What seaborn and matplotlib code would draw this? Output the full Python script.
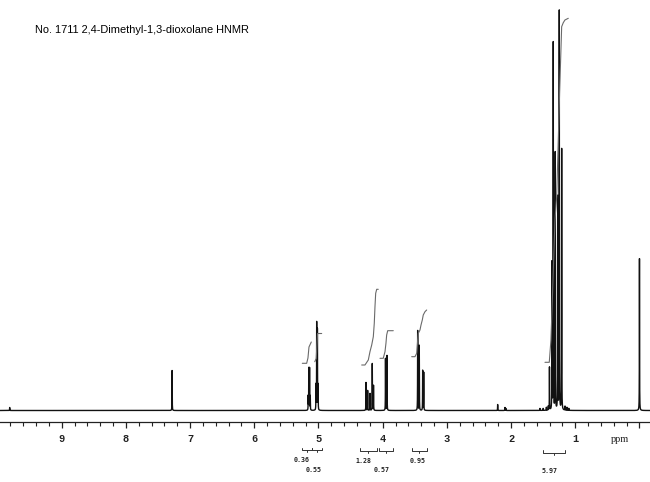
import numpy as np
import pandas as pd
import matplotlib
matplotlib.use("Agg")
import matplotlib.pyplot as plt
import seaborn as sns

# ---------------- data ----------------
title = "No. 1711 2,4-Dimethyl-1,3-dioxolane HNMR"

# peak list: chemical shift (ppm) and height (relative units, ~px above baseline)
peak_ppm = [9.81, 7.28,
            5.160, 5.151, 5.139, 5.128,
            5.039, 5.028, 5.017, 5.006,
            4.260, 4.234, 4.198, 4.162, 4.143,
            3.956, 3.933,
            3.455, 3.430, 3.377, 3.361,
            2.209, 2.095, 2.080,
            1.55, 1.50, 1.45, 1.42,
            1.402, 1.363, 1.343, 1.312, 1.274, 1.249, 1.212,
            1.16, 1.13, 1.10,
            0.000]
peak_height = [3, 40,
               14, 42, 42, 14,
               25, 87, 80, 25,
               28, 20, 17, 47, 25,
               52, 55,
               80, 65, 40, 38,
               6, 3, 2,
               2, 2, 3, 4,
               43, 147, 368, 258, 213, 399, 262,
               4, 3, 2,
               152]

# integral traces (ppm, height)
int1_ppm = [5.252, 5.184, 5.164, 5.148, 5.112]
int1_h = [47.2, 47.2, 52.5, 63.5, 68.5]
int2_ppm = [5.058, 5.035, 5.025, 5.015, 4.950]
int2_h = [48.8, 52.0, 65.0, 77.0, 77.0]
int3_ppm = [4.327, 4.276, 4.224, 4.198, 4.171, 4.146, 4.131, 4.120, 4.109, 4.093, 4.069]
int3_h = [45.5, 45.5, 50.5, 58.8, 65.5, 73.8, 87.2, 103.8, 117.2, 121.2, 121.2]
int4_ppm = [4.042, 3.991, 3.964, 3.949, 3.938, 3.922, 3.835]
int4_h = [52.2, 52.2, 58.8, 67.2, 75.5, 79.8, 79.8]
int5_ppm = [3.548, 3.497, 3.470, 3.455, 3.445, 3.419, 3.403, 3.383, 3.368, 3.341, 3.315]
int5_h = [53.8, 53.8, 57.2, 70.5, 77.2, 80.5, 85.5, 90.5, 95.5, 98.8, 100.5]
int6_ppm = [1.472, 1.405, 1.379, 1.347, 1.316, 1.290, 1.269, 1.243, 1.212, 1.187, 1.161, 1.109]
int6_h = [48.2, 48.2, 70.5, 130.5, 190.5, 213.8, 260.5, 320.5, 383.8, 387.8, 390.5, 392.2]

# integration ranges (ppm) and values
int_start = [5.262, 5.101, 4.354, 4.053, 3.539, 1.508]
int_end = [5.101, 4.950, 4.093, 3.844, 3.315, 1.160]
int_value = ["0.36", "0.55", "1.28", "0.57", "0.95", "5.97"]

axis_ticks = [1, 2, 3, 4, 5, 6, 7, 8, 9]

# ---------------- figure ----------------
sns.set_style("white")
fig = plt.figure(figsize=(6.5, 4.82), dpi=100)
ax = fig.add_axes([0, 0, 1, 1])

# spectrum (sum of narrow Lorentzian lines)
x = np.linspace(9.97, -0.17, 50000)
y = np.zeros_like(x)
w = 0.0016
for c, h in zip(peak_ppm, peak_height):
    y += h / (1 + ((x - c) / w) ** 2)
spec = pd.DataFrame({"ppm": x, "I": y})
sns.lineplot(data=spec, x="ppm", y="I", ax=ax, color="#111111", lw=1.0,
             estimator=None, sort=False)

for px, ph in [(int1_ppm, int1_h), (int2_ppm, int2_h), (int3_ppm, int3_h),
               (int4_ppm, int4_h), (int5_ppm, int5_h), (int6_ppm, int6_h)]:
    d = pd.DataFrame({"ppm": px, "I": ph})
    sns.lineplot(data=d, x="ppm", y="I", ax=ax, color="#6a6a6a", lw=0.8,
                 estimator=None, sort=False)

# integral brackets and labels
br_y = [-39.5, -39.5, -40.2, -40.2, -40.0, -42.2]
lab_x = [5.262, 5.081, 4.302, 4.016, 3.461, 1.394]
lab_y = [-50.0, -59.0, -50.5, -59.5, -50.5, -60.5]
for s, e, by in zip(int_start, int_end, br_y):
    ax.plot([s, s, e, e], [by + 2.5, by, by, by + 2.5], color="#333333", lw=0.7)
    m = (s + e) / 2
    ax.plot([m, m], [by, by - 2.2], color="#333333", lw=0.7)
for v, lx, ly in zip(int_value, lab_x, lab_y):
    ax.text(lx, ly, v, ha="center", va="center", fontsize=4.8,
            family="DejaVu Sans Mono", fontweight="bold", color="#222222")

ax.set_xlim(9.961, -0.164)
ax.set_ylim(-71.5, 410.5)

# axis line with ticks
for s in ["top", "right", "left"]:
    ax.spines[s].set_visible(False)
ax.spines["bottom"].set_position(("data", -11.8))
ax.spines["bottom"].set_linewidth(0.9)
ax.spines["bottom"].set_color("#222222")
ax.set_xticks([0] + axis_ticks)
ax.set_xticklabels([""] + [str(t) for t in axis_ticks])
ax.set_xticks(np.arange(0, 10.0, 0.2), minor=True)
ax.tick_params(axis="x", which="major", direction="out", length=4.5, width=0.9,
               pad=4, labelsize=7.5, colors="#222222", bottom=True)
ax.tick_params(axis="x", which="minor", direction="out", length=3, width=0.8,
               colors="#222222", bottom=True)
for lab in ax.get_xticklabels():
    lab.set_family("Liberation Mono")
    lab.set_fontweight("bold")
ax.set_yticks([])
ax.set_xlabel("")
ax.set_ylabel("")
ax.text(0.30, -29, "ppm", ha="center", va="center", fontsize=7.5,
        family="Liberation Serif", color="#222222")

fig.text(35 / 650, 1 - 30 / 482, title, ha="left", va="center", fontsize=7.9,
         family="Liberation Sans", color="black")

fig.savefig("out.png", dpi=100)
